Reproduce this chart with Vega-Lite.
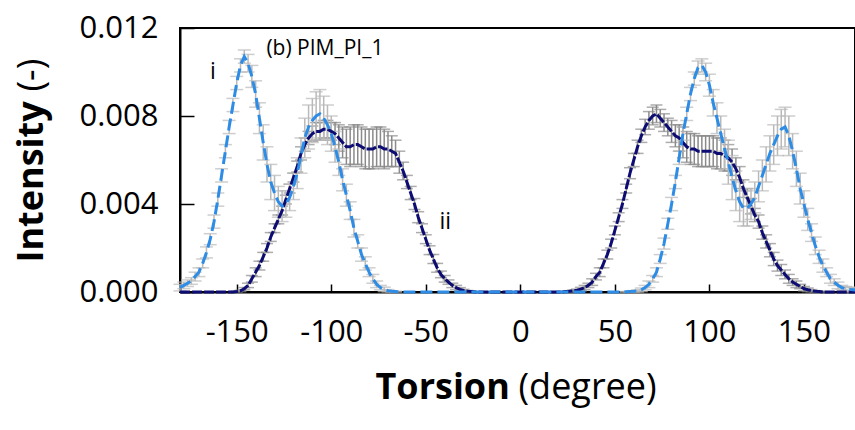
{
  "$schema": "https://vega.github.io/schema/vega-lite/v6.json",
  "width": 675,
  "height": 264,
  "autosize": {"type": "none"},
  "padding": {"left": 180, "top": 28, "right": 0, "bottom": 138},
  "config": {
    "view": {"stroke": "#000", "strokeWidth": 2},
    "font": "Open Sans",
    "axis": {"grid": false, "domainColor": "#000", "domainWidth": 2, "tickColor": "#000", "tickWidth": 1.5, "labelColor": "#000", "labelFont": "Open Sans", "labelFontSize": 31, "titleColor": "#000", "titleFont": "Open Sans", "titleFontSize": 36}
  },
  "datasets": {
    "i": [
      {"t":-180,"v":0.0002,"e":0.00015},{"t":-178,"v":0.0003,"e":0.00015},{"t":-176,"v":0.0004,"e":0.00015},{"t":-174,"v":0.0005,"e":0.00015},
      {"t":-172,"v":0.0007,"e":0.0002},{"t":-170,"v":0.0009,"e":0.0002},{"t":-168,"v":0.0013,"e":0.0002},{"t":-166,"v":0.0018,"e":0.00025},
      {"t":-164,"v":0.0024,"e":0.00025},{"t":-162,"v":0.0032,"e":0.0003},{"t":-160,"v":0.0042,"e":0.0003},{"t":-158,"v":0.0053,"e":0.0003},
      {"t":-156,"v":0.0064,"e":0.0003},{"t":-154,"v":0.0075,"e":0.0003},{"t":-152,"v":0.0085,"e":0.0003},{"t":-150,"v":0.0095,"e":0.0003},
      {"t":-148,"v":0.0103,"e":0.0003},{"t":-146,"v":0.0107,"e":0.0003},{"t":-144,"v":0.0104,"e":0.0004},{"t":-142,"v":0.0098,"e":0.0005},
      {"t":-140,"v":0.009,"e":0.0006},{"t":-138,"v":0.0079,"e":0.0007},{"t":-136,"v":0.0068,"e":0.0008},{"t":-134,"v":0.0058,"e":0.0008},
      {"t":-132,"v":0.005,"e":0.0008},{"t":-130,"v":0.0045,"e":0.0008},{"t":-128,"v":0.0041,"e":0.0007},{"t":-126,"v":0.0039,"e":0.0007},
      {"t":-124,"v":0.004,"e":0.0006},{"t":-122,"v":0.0043,"e":0.0006},{"t":-120,"v":0.0048,"e":0.0006},{"t":-118,"v":0.0054,"e":0.0007},
      {"t":-116,"v":0.0062,"e":0.0008},{"t":-114,"v":0.007,"e":0.0009},{"t":-112,"v":0.0075,"e":0.001},{"t":-110,"v":0.0078,"e":0.001},
      {"t":-108,"v":0.008,"e":0.0011},{"t":-106,"v":0.0081,"e":0.0011},{"t":-104,"v":0.0079,"e":0.001},{"t":-102,"v":0.0076,"e":0.0009},
      {"t":-100,"v":0.0072,"e":0.0008},{"t":-98,"v":0.0066,"e":0.0007},{"t":-96,"v":0.0059,"e":0.0006},{"t":-94,"v":0.0051,"e":0.0005},
      {"t":-92,"v":0.0044,"e":0.0005},{"t":-90,"v":0.0037,"e":0.0004},{"t":-88,"v":0.0029,"e":0.0004},{"t":-86,"v":0.0023,"e":0.0003},
      {"t":-84,"v":0.0017,"e":0.0003},{"t":-82,"v":0.0013,"e":0.0003},{"t":-80,"v":0.0009,"e":0.0002},{"t":-78,"v":0.0006,"e":0.0002},
      {"t":-76,"v":0.00035,"e":0.00015},{"t":-74,"v":0.0002,"e":0.0001},{"t":-72,"v":0.00012,"e":0.0001},{"t":-70,"v":0.00006,"e":0.00005},
      {"t":-68,"v":0.00003,"e":0.00003},{"t":-66,"v":0.00002,"e":0.00002},
      {"t":-64,"v":0,"e":0},{"t":-62,"v":0,"e":0},{"t":-60,"v":0,"e":0},{"t":-58,"v":0,"e":0},{"t":-56,"v":0,"e":0},{"t":-54,"v":0,"e":0},
      {"t":-52,"v":0,"e":0},{"t":-50,"v":0,"e":0},{"t":-48,"v":0,"e":0},{"t":-46,"v":0,"e":0},{"t":-44,"v":0,"e":0},{"t":-42,"v":0,"e":0},
      {"t":-40,"v":0,"e":0},{"t":-38,"v":0,"e":0},{"t":-36,"v":0,"e":0},{"t":-34,"v":0,"e":0},{"t":-32,"v":0,"e":0},{"t":-30,"v":0,"e":0},
      {"t":-28,"v":0,"e":0},{"t":-26,"v":0,"e":0},{"t":-24,"v":0,"e":0},{"t":-22,"v":0,"e":0},{"t":-20,"v":0,"e":0},{"t":-18,"v":0,"e":0},
      {"t":-16,"v":0,"e":0},{"t":-14,"v":0,"e":0},{"t":-12,"v":0,"e":0},{"t":-10,"v":0,"e":0},{"t":-8,"v":0,"e":0},{"t":-6,"v":0,"e":0},
      {"t":-4,"v":0,"e":0},{"t":-2,"v":0,"e":0},{"t":0,"v":0,"e":0},{"t":2,"v":0,"e":0},{"t":4,"v":0,"e":0},{"t":6,"v":0,"e":0},
      {"t":8,"v":0,"e":0},{"t":10,"v":0,"e":0},{"t":12,"v":0,"e":0},{"t":14,"v":0,"e":0},{"t":16,"v":0,"e":0},{"t":18,"v":0,"e":0},
      {"t":20,"v":0,"e":0},{"t":22,"v":0,"e":0},{"t":24,"v":0,"e":0},{"t":26,"v":0,"e":0},{"t":28,"v":0,"e":0},{"t":30,"v":0,"e":0},
      {"t":32,"v":0,"e":0},{"t":34,"v":0,"e":0},{"t":36,"v":0,"e":0},{"t":38,"v":0,"e":0},{"t":40,"v":0,"e":0},{"t":42,"v":0,"e":0},
      {"t":44,"v":0,"e":0},{"t":46,"v":0,"e":0},{"t":48,"v":0,"e":0},{"t":50,"v":0,"e":0},{"t":52,"v":0,"e":0},{"t":54,"v":0,"e":0},
      {"t":56,"v":0.00001,"e":0.00001},{"t":58,"v":0.00002,"e":0.00002},{"t":60,"v":0.00003,"e":0.00003},{"t":62,"v":0.00005,"e":0.00005},
      {"t":64,"v":0.0001,"e":0.00008},{"t":66,"v":0.0002,"e":0.0001},{"t":68,"v":0.00035,"e":0.00015},{"t":70,"v":0.0006,"e":0.00015},
      {"t":72,"v":0.0009,"e":0.0002},{"t":74,"v":0.0015,"e":0.0002},{"t":76,"v":0.0022,"e":0.00025},{"t":78,"v":0.0031,"e":0.00025},
      {"t":80,"v":0.004,"e":0.0003},{"t":82,"v":0.005,"e":0.0003},{"t":84,"v":0.0061,"e":0.0003},{"t":86,"v":0.0072,"e":0.0003},
      {"t":88,"v":0.0081,"e":0.0003},{"t":90,"v":0.009,"e":0.0003},{"t":92,"v":0.0097,"e":0.0003},{"t":94,"v":0.0102,"e":0.0003},
      {"t":96,"v":0.0103,"e":0.0003},{"t":98,"v":0.01,"e":0.0004},{"t":100,"v":0.0094,"e":0.0005},{"t":102,"v":0.0086,"e":0.0006},
      {"t":104,"v":0.0079,"e":0.0007},{"t":106,"v":0.0072,"e":0.0008},{"t":108,"v":0.0065,"e":0.0009},{"t":110,"v":0.0059,"e":0.001},
      {"t":112,"v":0.0052,"e":0.001},{"t":114,"v":0.0046,"e":0.0009},{"t":116,"v":0.0041,"e":0.0009},{"t":118,"v":0.0038,"e":0.0008},
      {"t":120,"v":0.0038,"e":0.0008},{"t":122,"v":0.004,"e":0.0007},{"t":124,"v":0.0043,"e":0.0007},{"t":126,"v":0.0048,"e":0.0007},
      {"t":128,"v":0.0053,"e":0.0007},{"t":130,"v":0.0058,"e":0.0008},{"t":132,"v":0.0063,"e":0.0008},{"t":134,"v":0.0067,"e":0.0009},
      {"t":136,"v":0.0071,"e":0.0009},{"t":138,"v":0.0074,"e":0.0009},{"t":140,"v":0.0075,"e":0.0009},{"t":142,"v":0.0071,"e":0.0009},
      {"t":144,"v":0.0064,"e":0.0008},{"t":146,"v":0.0056,"e":0.0008},{"t":148,"v":0.0047,"e":0.0007},{"t":150,"v":0.004,"e":0.0006},
      {"t":152,"v":0.0033,"e":0.0005},{"t":154,"v":0.0027,"e":0.0004},{"t":156,"v":0.0021,"e":0.0004},{"t":158,"v":0.0016,"e":0.0003},
      {"t":160,"v":0.0012,"e":0.0003},{"t":162,"v":0.0009,"e":0.0002},{"t":164,"v":0.0006,"e":0.0002},{"t":166,"v":0.00045,"e":0.00015},
      {"t":168,"v":0.0003,"e":0.00015},{"t":170,"v":0.0002,"e":0.0001},{"t":172,"v":0.00015,"e":0.0001},{"t":174,"v":0.00012,"e":0.0001},
      {"t":176,"v":0.0001,"e":0.0001},{"t":178,"v":0.00008,"e":0.00008},{"t":180,"v":0.00006,"e":0.00006}
    ],
    "ii": [
      {"t":-180,"v":0,"e":0},{"t":-178,"v":0,"e":0},{"t":-176,"v":0,"e":0},{"t":-174,"v":0,"e":0},{"t":-172,"v":0,"e":0},
      {"t":-170,"v":0,"e":0},{"t":-168,"v":0,"e":0},{"t":-166,"v":0,"e":0},{"t":-164,"v":0,"e":0},{"t":-162,"v":0,"e":0},
      {"t":-160,"v":0,"e":0},{"t":-158,"v":0,"e":0},{"t":-156,"v":0,"e":0},{"t":-154,"v":0,"e":0},{"t":-152,"v":0,"e":0},
      {"t":-150,"v":0.00002,"e":0.00002},{"t":-148,"v":0.00005,"e":0.00003},{"t":-146,"v":0.00015,"e":0.00005},{"t":-144,"v":0.0003,"e":0.0001},
      {"t":-142,"v":0.0006,"e":0.00015},{"t":-140,"v":0.0009,"e":0.0002},{"t":-138,"v":0.0012,"e":0.0002},{"t":-136,"v":0.0016,"e":0.0002},
      {"t":-134,"v":0.002,"e":0.0002},{"t":-132,"v":0.0025,"e":0.0002},{"t":-130,"v":0.0029,"e":0.0002},{"t":-128,"v":0.0033,"e":0.0002},
      {"t":-126,"v":0.0037,"e":0.0002},{"t":-124,"v":0.0042,"e":0.0002},{"t":-122,"v":0.0047,"e":0.0002},{"t":-120,"v":0.0052,"e":0.0002},
      {"t":-118,"v":0.0057,"e":0.00025},{"t":-116,"v":0.0063,"e":0.0003},{"t":-114,"v":0.0067,"e":0.0003},{"t":-112,"v":0.007,"e":0.0003},
      {"t":-110,"v":0.0072,"e":0.00035},{"t":-108,"v":0.0073,"e":0.0004},{"t":-106,"v":0.0073,"e":0.0004},{"t":-104,"v":0.0074,"e":0.0004},
      {"t":-102,"v":0.0074,"e":0.0004},{"t":-100,"v":0.0073,"e":0.0004},{"t":-98,"v":0.0072,"e":0.0005},{"t":-96,"v":0.007,"e":0.0006},
      {"t":-94,"v":0.0068,"e":0.0007},{"t":-92,"v":0.0066,"e":0.0008},{"t":-90,"v":0.0066,"e":0.0009},{"t":-88,"v":0.0067,"e":0.0009},
      {"t":-86,"v":0.0067,"e":0.0009},{"t":-84,"v":0.0066,"e":0.0009},{"t":-82,"v":0.0065,"e":0.0009},{"t":-80,"v":0.0065,"e":0.0009},
      {"t":-78,"v":0.0065,"e":0.0009},{"t":-76,"v":0.0066,"e":0.0009},{"t":-74,"v":0.0066,"e":0.0009},{"t":-72,"v":0.0065,"e":0.0009},
      {"t":-70,"v":0.0065,"e":0.0008},{"t":-68,"v":0.0064,"e":0.0007},{"t":-66,"v":0.0063,"e":0.0006},{"t":-64,"v":0.0059,"e":0.0005},
      {"t":-62,"v":0.0055,"e":0.0004},{"t":-60,"v":0.005,"e":0.0003},{"t":-58,"v":0.0045,"e":0.0003},{"t":-56,"v":0.004,"e":0.00025},
      {"t":-54,"v":0.0034,"e":0.00025},{"t":-52,"v":0.0029,"e":0.0002},{"t":-50,"v":0.0024,"e":0.0002},{"t":-48,"v":0.0019,"e":0.0002},
      {"t":-46,"v":0.0015,"e":0.0002},{"t":-44,"v":0.0011,"e":0.0002},{"t":-42,"v":0.0008,"e":0.00015},{"t":-40,"v":0.0006,"e":0.00015},
      {"t":-38,"v":0.00045,"e":0.0001},{"t":-36,"v":0.0003,"e":0.0001},{"t":-34,"v":0.0002,"e":0.0001},{"t":-32,"v":0.00012,"e":0.00008},
      {"t":-30,"v":0.00007,"e":0.00005},{"t":-28,"v":0.00004,"e":0.00003},{"t":-26,"v":0.00002,"e":0.00002},
      {"t":-24,"v":0,"e":0},{"t":-22,"v":0,"e":0},{"t":-20,"v":0,"e":0},{"t":-18,"v":0,"e":0},{"t":-16,"v":0,"e":0},{"t":-14,"v":0,"e":0},
      {"t":-12,"v":0,"e":0},{"t":-10,"v":0,"e":0},{"t":-8,"v":0,"e":0},{"t":-6,"v":0,"e":0},{"t":-4,"v":0,"e":0},{"t":-2,"v":0,"e":0},
      {"t":0,"v":0,"e":0},{"t":2,"v":0,"e":0},{"t":4,"v":0,"e":0},{"t":6,"v":0,"e":0},{"t":8,"v":0,"e":0},{"t":10,"v":0,"e":0},
      {"t":12,"v":0,"e":0},{"t":14,"v":0,"e":0},{"t":16,"v":0,"e":0},{"t":18,"v":0,"e":0},{"t":20,"v":0,"e":0},{"t":22,"v":0,"e":0},
      {"t":24,"v":0.00002,"e":0.00002},{"t":26,"v":0.00003,"e":0.00003},{"t":28,"v":0.00005,"e":0.00004},{"t":30,"v":0.00008,"e":0.00005},
      {"t":32,"v":0.00013,"e":0.00008},{"t":34,"v":0.0002,"e":0.0001},{"t":36,"v":0.0003,"e":0.0001},{"t":38,"v":0.00045,"e":0.00015},
      {"t":40,"v":0.0007,"e":0.00015},{"t":42,"v":0.0009,"e":0.0002},{"t":44,"v":0.0013,"e":0.0002},{"t":46,"v":0.0017,"e":0.0002},
      {"t":48,"v":0.0022,"e":0.0002},{"t":50,"v":0.0028,"e":0.0002},{"t":52,"v":0.0034,"e":0.0002},{"t":54,"v":0.004,"e":0.0002},
      {"t":56,"v":0.0047,"e":0.0002},{"t":58,"v":0.0054,"e":0.00025},{"t":60,"v":0.006,"e":0.0003},{"t":62,"v":0.0066,"e":0.0003},
      {"t":64,"v":0.0071,"e":0.0003},{"t":66,"v":0.0075,"e":0.00035},{"t":68,"v":0.0078,"e":0.0004},{"t":70,"v":0.008,"e":0.0004},
      {"t":72,"v":0.0081,"e":0.0004},{"t":74,"v":0.0079,"e":0.0004},{"t":76,"v":0.0077,"e":0.0004},{"t":78,"v":0.0075,"e":0.0004},
      {"t":80,"v":0.0073,"e":0.0005},{"t":82,"v":0.0071,"e":0.0005},{"t":84,"v":0.007,"e":0.0006},{"t":86,"v":0.0068,"e":0.0007},
      {"t":88,"v":0.0066,"e":0.0007},{"t":90,"v":0.0065,"e":0.0007},{"t":92,"v":0.0065,"e":0.0007},{"t":94,"v":0.0064,"e":0.0007},
      {"t":96,"v":0.0064,"e":0.0007},{"t":98,"v":0.0064,"e":0.0007},{"t":100,"v":0.0064,"e":0.0007},{"t":102,"v":0.0064,"e":0.0007},
      {"t":104,"v":0.0063,"e":0.0007},{"t":106,"v":0.0063,"e":0.0007},{"t":108,"v":0.0062,"e":0.0007},{"t":110,"v":0.0061,"e":0.0006},
      {"t":112,"v":0.0059,"e":0.0006},{"t":114,"v":0.0056,"e":0.0005},{"t":116,"v":0.0052,"e":0.0005},{"t":118,"v":0.0047,"e":0.0004},
      {"t":120,"v":0.0043,"e":0.0004},{"t":122,"v":0.0039,"e":0.00035},{"t":124,"v":0.0035,"e":0.0003},{"t":126,"v":0.0032,"e":0.0003},
      {"t":128,"v":0.0027,"e":0.0003},{"t":130,"v":0.0023,"e":0.0003},{"t":132,"v":0.0019,"e":0.0003},{"t":134,"v":0.0015,"e":0.0003},
      {"t":136,"v":0.0012,"e":0.00025},{"t":138,"v":0.001,"e":0.00025},{"t":140,"v":0.0008,"e":0.0002},{"t":142,"v":0.0006,"e":0.0002},
      {"t":144,"v":0.00045,"e":0.00015},{"t":146,"v":0.00035,"e":0.00015},{"t":148,"v":0.00025,"e":0.0001},{"t":150,"v":0.00015,"e":0.0001},
      {"t":152,"v":0.0001,"e":0.00008},{"t":154,"v":0.00006,"e":0.00005},{"t":156,"v":0.00003,"e":0.00003},{"t":158,"v":0.00002,"e":0.00002},
      {"t":160,"v":0,"e":0},{"t":162,"v":0,"e":0},{"t":164,"v":0,"e":0},{"t":166,"v":0,"e":0},{"t":168,"v":0,"e":0},{"t":170,"v":0,"e":0},
      {"t":172,"v":0,"e":0},{"t":174,"v":0,"e":0},{"t":176,"v":0,"e":0},{"t":178,"v":0,"e":0},{"t":180,"v":0,"e":0}
    ],
    "notes": [
      {"t": -134.3, "v": 0.01105, "label": "(b) PIM_PI_1"}
    ],
    "marks": [
      {"t": -162.6, "v": 0.0100, "label": "i"},
      {"t": -39.7, "v": 0.00318, "label": "ii"}
    ]
  },
  "layer": [
    {
      "data": {"name": "ii"},
      "transform": [{"filter": "datum.e > 0"}],
      "mark": {"type": "errorbar", "ticks": {"size": 12, "thickness": 1.5}, "color": "#8a8a8a", "thickness": 1.5},
      "encoding": {
        "x": {"field": "t", "type": "quantitative", "scale": {"domain": [-180, 177], "nice": false, "zero": false},
          "axis": {"values": [-150, -100, -50, 0, 50, 100, 150], "labelExpr": "datum.value + ''", "tickSize": -8, "labelPadding": 33, "labelFlush": false, "labelOverlap": false,
            "title": "Torsion", "titleFontWeight": "bold", "titleAlign": "left", "titleBaseline": "alphabetic", "titleX": 195, "titleY": 106}},
        "y": {"field": "v", "type": "quantitative", "scale": {"domain": [0, 0.012], "nice": false},
          "axis": {"values": [0, 0.004, 0.008, 0.012], "format": ".3f", "tickSize": -14, "labelPadding": 36, "labelFlush": false,
            "title": "Intensity", "titleFontWeight": "bold", "titleAngle": 270, "titleAlign": "left", "titleBaseline": "alphabetic", "titleX": -138, "titleY": 234}},
        "yError": {"field": "e"}
      }
    },
    {
      "data": {"name": "i"},
      "transform": [{"filter": "datum.e > 0"}],
      "mark": {"type": "errorbar", "ticks": {"size": 13, "thickness": 1.5}, "color": "#b9b9b9", "thickness": 1.5},
      "encoding": {
        "x": {"field": "t", "type": "quantitative", "scale": {"domain": [-180, 177], "nice": false, "zero": false}, "axis": null},
        "y": {"field": "v", "type": "quantitative", "scale": {"domain": [0, 0.012], "nice": false}, "axis": null},
        "yError": {"field": "e"}
      }
    },
    {
      "data": {"name": "ii"},
      "mark": {"type": "line", "color": "#0c0c72", "strokeWidth": 3, "strokeDash": [10, 2]},
      "encoding": {
        "x": {"field": "t", "type": "quantitative", "scale": {"domain": [-180, 177], "nice": false, "zero": false}, "axis": null},
        "y": {"field": "v", "type": "quantitative", "scale": {"domain": [0, 0.012], "nice": false}, "axis": null}
      }
    },
    {
      "data": {"name": "notes"},
      "mark": {"type": "text", "align": "left", "baseline": "middle", "fontSize": 21, "font": "Open Sans", "color": "#000"},
      "encoding": {
        "x": {"field": "t", "type": "quantitative", "scale": {"domain": [-180, 177], "nice": false, "zero": false}, "axis": null},
        "y": {"field": "v", "type": "quantitative", "scale": {"domain": [0, 0.012], "nice": false}, "axis": null},
        "text": {"field": "label"}
      }
    },
    {
      "data": {"name": "marks"},
      "mark": {"type": "text", "align": "center", "baseline": "middle", "fontSize": 23, "font": "Open Sans", "color": "#000"},
      "encoding": {
        "x": {"field": "t", "type": "quantitative", "scale": {"domain": [-180, 177], "nice": false, "zero": false}, "axis": null},
        "y": {"field": "v", "type": "quantitative", "scale": {"domain": [0, 0.012], "nice": false}, "axis": null},
        "text": {"field": "label"}
      }
    },
    {
      "data": {"name": "i"},
      "mark": {"type": "line", "color": "#2d8ce6", "strokeWidth": 3, "strokeDash": [12, 5]},
      "encoding": {
        "x": {"field": "t", "type": "quantitative", "scale": {"domain": [-180, 177], "nice": false, "zero": false},
          "axis": {"orient": "bottom", "labels": false, "ticks": false, "domain": false, "grid": false,
            "title": "(degree)", "titleFontWeight": "normal", "titleAlign": "left", "titleBaseline": "alphabetic", "titleX": 338, "titleY": 106}},
        "y": {"field": "v", "type": "quantitative", "scale": {"domain": [0, 0.012], "nice": false},
          "axis": {"orient": "left", "labels": false, "ticks": false, "domain": false, "grid": false,
            "title": "(-)", "titleFontWeight": "normal", "titleAngle": 270, "titleAlign": "left", "titleBaseline": "alphabetic", "titleX": -138, "titleY": 63}}
      }
    }
  ],
  "resolve": {"axis": {"x": "independent", "y": "independent"}}
}
